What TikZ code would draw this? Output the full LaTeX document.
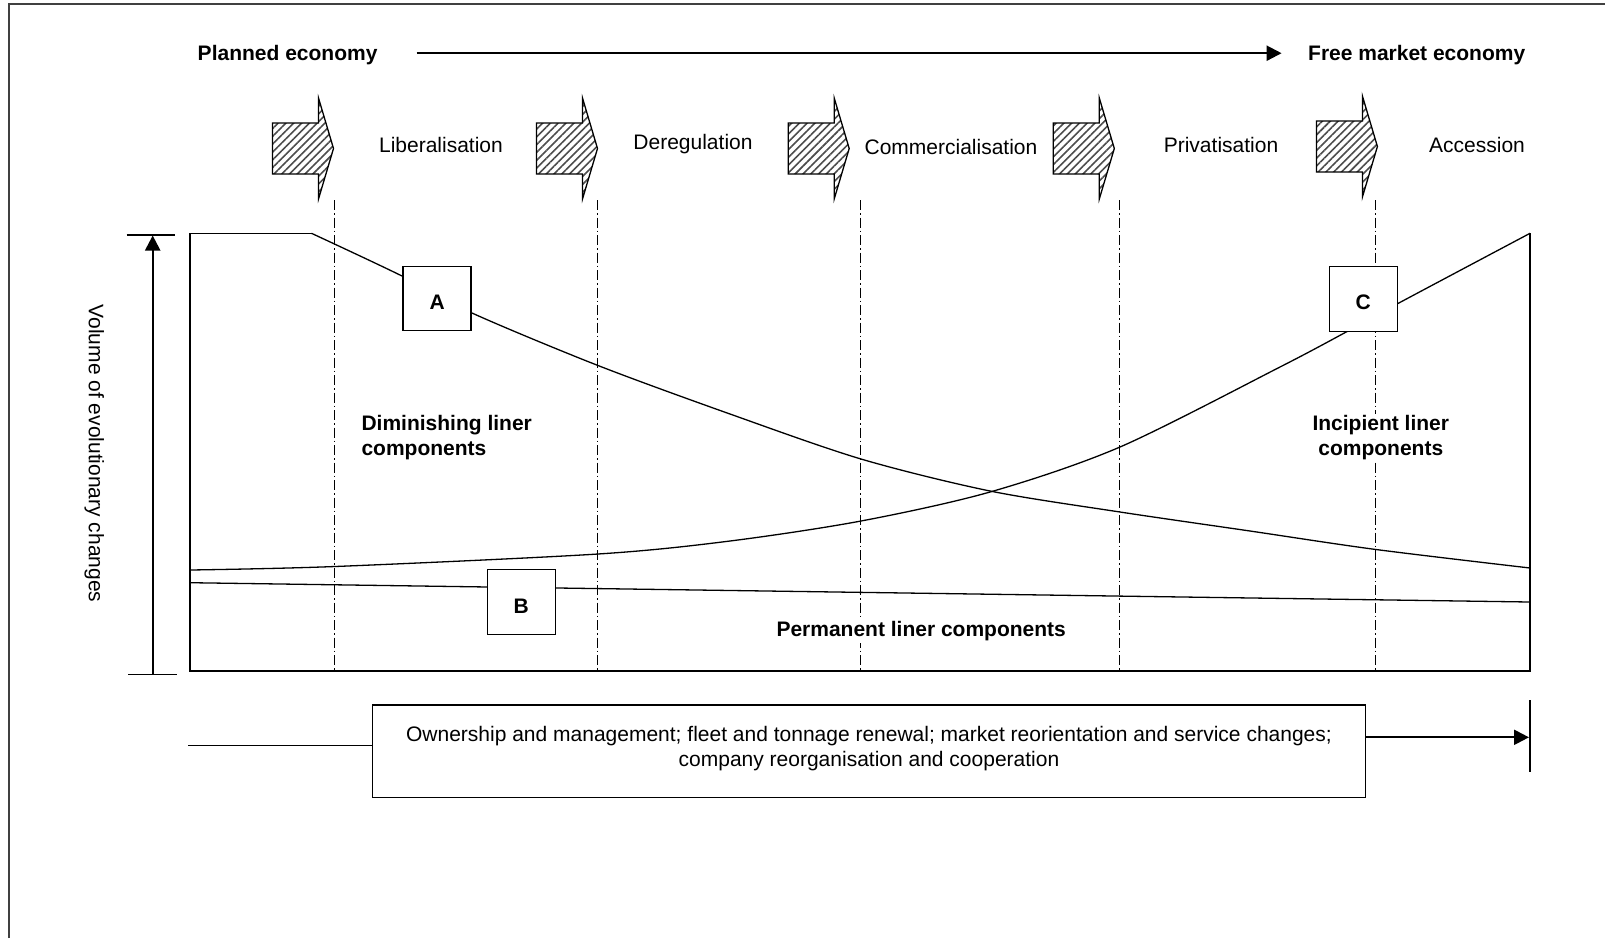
\documentclass[tikz,border=0pt]{standalone}
\usepackage{fontspec}
\setmainfont{Liberation Sans}
\usetikzlibrary{arrows.meta,patterns.meta}

% hatched phase arrow: #1 left x, #2 centre y
\newcommand\phasearrow[2]{%
  \draw[phase] (#1,#2-25.5) -- ++(46,0) -- ++(0,-25) -- (#1+61,#2)
    -- (#1+46,#2+50.5) -- ++(0,-25) -- (#1,#2+25.5) -- cycle;}
% letter set a little below the centre of its box
\newcommand\boxletter[1]{\raisebox{-11pt}[0pt][0pt]{#1}}

\begin{document}
\begin{tikzpicture}[x=1pt,y=-1pt,
  txt/.style={font=\fontsize{21}{25}\selectfont, inner sep=2pt},
  btxt/.style={font=\fontsize{21}{25}\selectfont\bfseries, inner sep=2pt},
  letterbox/.style={draw, line width=1.3pt, fill=white, minimum width=68pt,
    minimum height=64.5pt, inner sep=0pt, font=\fontsize{21}{25}\selectfont\bfseries},
  phase/.style={draw, line width=1.3pt,
    pattern={Lines[angle=45,distance=5.5pt,line width=1.6pt]}, pattern color=black!70},
  divider/.style={line width=1.1pt, dash pattern=on 10pt off 3pt on 1.5pt off 3pt},
  thinline/.style={line width=1.3pt},
  boldarrow/.style={line width=2.2pt, -{Triangle[length=15pt,width=15pt]}},
]
\useasboundingbox (0,0) rectangle (1605,938);

% outer frame (top and left edges)
\draw[line width=1.6pt, black!75] (9,938) -- (9,4) -- (1605,4);

% economy direction
\node[btxt] (plan) at (287.6,55.5) {Planned economy};
\node[btxt] (free) at (1416.7,55.5) {Free market economy};
\coordinate (dirS) at (416.6,53.2);
\coordinate (dirE) at (1281.6,53.2);
\draw[boldarrow] (dirS) -- (dirE);

% phase arrows
\phasearrow{272.5}{148.5}
\phasearrow{536.5}{148.5}
\phasearrow{788.2}{148.5}
\phasearrow{1053.3}{148.5}
\phasearrow{1316.4}{146.5}

\node[txt] (lib) at (441,144.5) {Liberalisation};
\node[txt] (dereg) at (693,144.5) {Deregulation};
\node[txt] (comm) at (951,146.5) {Commercialisation};
\node[txt] (priv) at (1221,144.5) {Privatisation};
\node[txt] (acc) at (1477,144.5) {Accession};

% phase dividers
\foreach \x in {334.7,597.8,860.9,1119.8,1375.7}
  \draw[divider] (\x,200) -- (\x,671);

% main frame of the chart
\draw[thinline] (311.5,233.3) -- (190,233.3) -- (190,671) -- (1530,671) -- (1530,233.3);

% diminishing components (A)
\draw[thinline] plot[smooth, tension=0.5] coordinates {
  (311.5,233.3) (402,276) (472,313) (598,365.5) (730,414) (861,459)
  (990,491) (1120,512) (1250,531) (1376,549.5) (1530,568)};

% incipient components (C)
\draw[thinline] plot[smooth, tension=0.5] coordinates {
  (190,570) (335,566.5) (598,554) (730,541) (861,521) (990,492)
  (1120,447) (1280,367) (1348,331) (1397,304) (1530,233.3)};

% permanent components (B)
\coordinate (bS) at (190,582.7);
\coordinate (bE) at (1530,602);
\draw[thinline] (bS) -- (bE);

% labelled boxes
\node[letterbox] (A) at (437.1,298.4) {\boxletter{A}};
\node[letterbox] (B) at (521.3,602) {\boxletter{B}};
\node[letterbox] (C) at (1363.2,298.9) {\boxletter{C}};

% curve labels
\node[btxt, fill=white, align=left, anchor=west] (dim) at (359.3,437.8)
  {Diminishing liner\\components};
\node[btxt, fill=white, align=center] (inc) at (1380.8,437.8)
  {Incipient liner\\components};
\node[btxt, fill=white] (perm) at (921.2,630.8) {Permanent liner components};

% vertical axis
\coordinate (axB) at (152.7,674.3);
\coordinate (axT) at (152.7,235.5);
\draw[boldarrow] (axB) -- (axT);
\coordinate (tkT1) at (126.7,235);  \coordinate (tkT2) at (175,235);
\coordinate (tkB1) at (128.3,674.3); \coordinate (tkB2) at (177.3,674.3);
\draw[thinline] (tkT1) -- (tkT2);
\draw[thinline] (tkB1) -- (tkB2);
\node[txt, rotate=-90] (vol) at (94.2,453.5) {Volume of evolutionary changes};

% areas of change
\node[draw, thinline, minimum width=993.2pt, minimum height=92.3pt, inner sep=0pt]
  (chg) at (868.9,751.2) {};
\node[txt, align=center] (chgtxt) at (869,748.4)
  {Ownership and management; fleet and tonnage renewal; market reorientation and service changes;\\
   company reorganisation and cooperation};
\coordinate (lnS) at (188.3,745.7);
\draw[thinline] (lnS) -- (lnS -| chg.west);
\coordinate (endBar) at (1530,737.3);
\draw[boldarrow] (chg.east |- endBar) -- ([xshift=-1pt]endBar);
\coordinate (barT) at (1530,700);
\coordinate (barB) at (1530,771.7);
\draw[thinline] (barT) -- (barB);
\end{tikzpicture}
\end{document}
